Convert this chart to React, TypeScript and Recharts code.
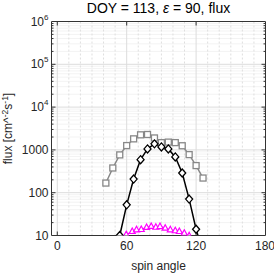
import { Line, LineChart, ReferenceLine, XAxis, YAxis } from 'recharts';

// spin angle bins (deg) and flux values
const greyAngle = [42, 48, 54, 60, 66, 72, 78, 84, 90, 96, 102, 108, 114, 120, 126];
const greyFlux = [168, 378, 764, 1262, 1812, 2250, 2290, 1900, 1480, 1520, 1480, 1250, 776, 430, 220];

const blackAngle = [54, 60, 66, 72, 78, 84, 90, 96, 102, 108, 114, 120, 126];
const blackFlux = [10, 52, 208, 592, 1055, 1383, 1175, 1055, 685, 288, 71, 14, 4];

const magentaAngle = [59.6, 64.8, 68.5, 72.6, 77.2, 81.2, 85.2, 88.8, 93.3, 97.7, 102, 105.5, 109.8, 114];
const magentaFlux = [10.4, 12.4, 13.6, 13.8, 15.4, 16.3, 15.6, 16.2, 14.8, 13.6, 12.9, 12.4, 11.3, 9.8];

// axis ticks and grid
const xTicks = [0, 60, 120, 180];
const xMinorGrid = [10, 20, 30, 40, 50, 70, 80, 90, 100, 110, 130, 140, 150, 160, 170];
const xMajorGrid = [0, 60, 120];
const yTicks = [10, 100, 1000, 1e4, 1e5, 1e6];
const yMajorGrid = [100, 1000, 1e4, 1e5];
const yMinorGrid = [
  20, 30, 40, 50, 60, 70, 80, 90,
  200, 300, 400, 500, 600, 700, 800, 900,
  2000, 3000, 4000, 5000, 6000, 7000, 8000, 9000,
  2e4, 3e4, 4e4, 5e4, 6e4, 7e4, 8e4, 9e4,
  2e5, 3e5, 4e5, 5e5, 6e5, 7e5, 8e5, 9e5,
];

const greyData = greyAngle.map((a, i) => ({ angle: a, flux: greyFlux[i] }));
const blackData = blackAngle.map((a, i) => ({ angle: a, flux: blackFlux[i] }));
const magentaData = magentaAngle.map((a, i) => ({ angle: a, flux: magentaFlux[i] }));

const FONT = '"Liberation Sans", Arial, sans-serif';
const AXIS = '#333';

// grid line plus small inward ticks at both ends (matlab style)
const gridShape = (color: string, dash: string | undefined, tick: number) => (props: any) => {
  const { x1, y1, x2, y2 } = props;
  const horiz = Math.abs(y1 - y2) < 0.01;
  const lo = horiz ? Math.min(x1, x2) : Math.min(y1, y2);
  const hi = horiz ? Math.max(x1, x2) : Math.max(y1, y2);
  return (
    <g>
      <line x1={x1} y1={y1} x2={x2} y2={y2} stroke={color} strokeDasharray={dash} />
      {tick > 0 && horiz && (
        <>
          <line x1={lo} y1={y1} x2={lo + tick} y2={y1} stroke={AXIS} />
          <line x1={hi - tick} y1={y1} x2={hi} y2={y1} stroke={AXIS} />
        </>
      )}
      {tick > 0 && !horiz && (
        <>
          <line x1={x1} y1={lo} x2={x1} y2={lo + tick} stroke={AXIS} />
          <line x1={x1} y1={hi - tick} x2={x1} y2={hi} stroke={AXIS} />
        </>
      )}
    </g>
  );
};

const YTick = (props: any) => {
  const { x, y, payload } = props;
  const v = payload.value as number;
  if (v >= 1e4) {
    return (
      <text x={x} y={y} textAnchor="end" dominantBaseline="central" fontSize={12} fill="#262626" fontFamily={FONT}>
        10<tspan dy={-5} fontSize={8}>{Math.round(Math.log10(v))}</tspan>
      </text>
    );
  }
  return (
    <text x={x} y={y} textAnchor="end" dominantBaseline="central" fontSize={12} fill="#262626" fontFamily={FONT}>
      {v}
    </text>
  );
};

const SquareDot = (props: any) => {
  const { cx, cy, key } = props;
  if (cx == null || cy == null) return <g key={key} />;
  return <rect key={key} x={cx - 3} y={cy - 3} width={6} height={6} fill="#fff" stroke="#888" strokeWidth={1.3} />;
};

const DiamondDot = (props: any) => {
  const { cx, cy, key } = props;
  if (cx == null || cy == null) return <g key={key} />;
  const pts = `${cx},${cy - 4} ${cx + 3.5},${cy} ${cx},${cy + 4} ${cx - 3.5},${cy}`;
  return <polygon key={key} points={pts} fill="#fff" stroke="#000" strokeWidth={1.3} />;
};

const TriangleDot = (props: any) => {
  const { cx, cy, key } = props;
  if (cx == null || cy == null) return <g key={key} />;
  const pts = `${cx},${cy - 3.5} ${cx + 3},${cy + 2} ${cx - 3},${cy + 2}`;
  return <polygon key={key} points={pts} fill="#fff" stroke="#ff00ff" strokeWidth={1.2} />;
};

export default function App() {
  return (
    <div style={{ position: 'absolute', left: 0, top: 0, width: 274, height: 275, background: '#fff' }}>
      <LineChart
        width={274}
        height={275}
        margin={{ top: 21.5, right: 8.5, bottom: 9.5, left: 6.5 }}
        style={{ fontFamily: FONT }}
      >
        <XAxis
          type="number"
          dataKey="angle"
          domain={[-5, 180]}
          ticks={xTicks}
          allowDataOverflow
          height={30}
          tickSize={0}
          tickMargin={5.5}
          tick={{ fontSize: 12, fill: '#262626', fontFamily: FONT }}
          axisLine={{ stroke: AXIS }}
        />
        <YAxis
          type="number"
          dataKey="flux"
          scale="log"
          domain={[10, 1e6]}
          ticks={yTicks}
          interval={0}
          allowDataOverflow
          width={45}
          tickSize={0}
          tickMargin={3}
          tick={<YTick />}
          axisLine={{ stroke: AXIS }}
        />
        {yMinorGrid.map((v) => (
          <ReferenceLine key={`ym${v}`} y={v} shape={gridShape('#e6e6e6', '1 1', 2)} />
        ))}
        {yMajorGrid.map((v) => (
          <ReferenceLine key={`yM${v}`} y={v} shape={gridShape('#dcdcdc', undefined, 4)} />
        ))}
        {xMinorGrid.map((v) => (
          <ReferenceLine key={`xm${v}`} x={v} shape={gridShape('#dedede', '2 2', 0)} />
        ))}
        {xMajorGrid.map((v) => (
          <ReferenceLine key={`xM${v}`} x={v} shape={gridShape('#dcdcdc', undefined, 4)} />
        ))}
        <ReferenceLine y={1e6} stroke={AXIS} />
        <ReferenceLine x={180} stroke={AXIS} />
        <Line
          data={greyData}
          dataKey="flux"
          stroke="#888"
          strokeWidth={1.5}
          dot={<SquareDot />}
          isAnimationActive={false}
        />
        <Line
          data={blackData}
          dataKey="flux"
          stroke="#000"
          strokeWidth={1.5}
          dot={<DiamondDot />}
          isAnimationActive={false}
        />
        <Line
          data={magentaData}
          dataKey="flux"
          stroke="#ff00ff"
          strokeWidth={1.3}
          dot={<TriangleDot />}
          isAnimationActive={false}
        />
      </LineChart>
      <svg
        width={274}
        height={275}
        style={{ position: 'absolute', left: 0, top: 0, pointerEvents: 'none' }}
        fontFamily={FONT}
      >
        <text x={158.5} y={12.7} textAnchor="middle" fontSize={14} fill="#000">
          DOY = 113, <tspan fontStyle="italic">ε</tspan> = 90, flux
        </text>
        <text x={158.5} y={270} textAnchor="middle" fontSize={12} fill="#262626">
          spin angle
        </text>
        <text transform="translate(12,128.5) rotate(-90)" textAnchor="middle" fontSize={12} fill="#262626">
          flux [cm^<tspan dy={-4} fontSize={8.5}>-2</tspan>
          <tspan dy={4}>s</tspan>
          <tspan dy={-4} fontSize={8.5}>-1</tspan>
          <tspan dy={4}>]</tspan>
        </text>
      </svg>
    </div>
  );
}
